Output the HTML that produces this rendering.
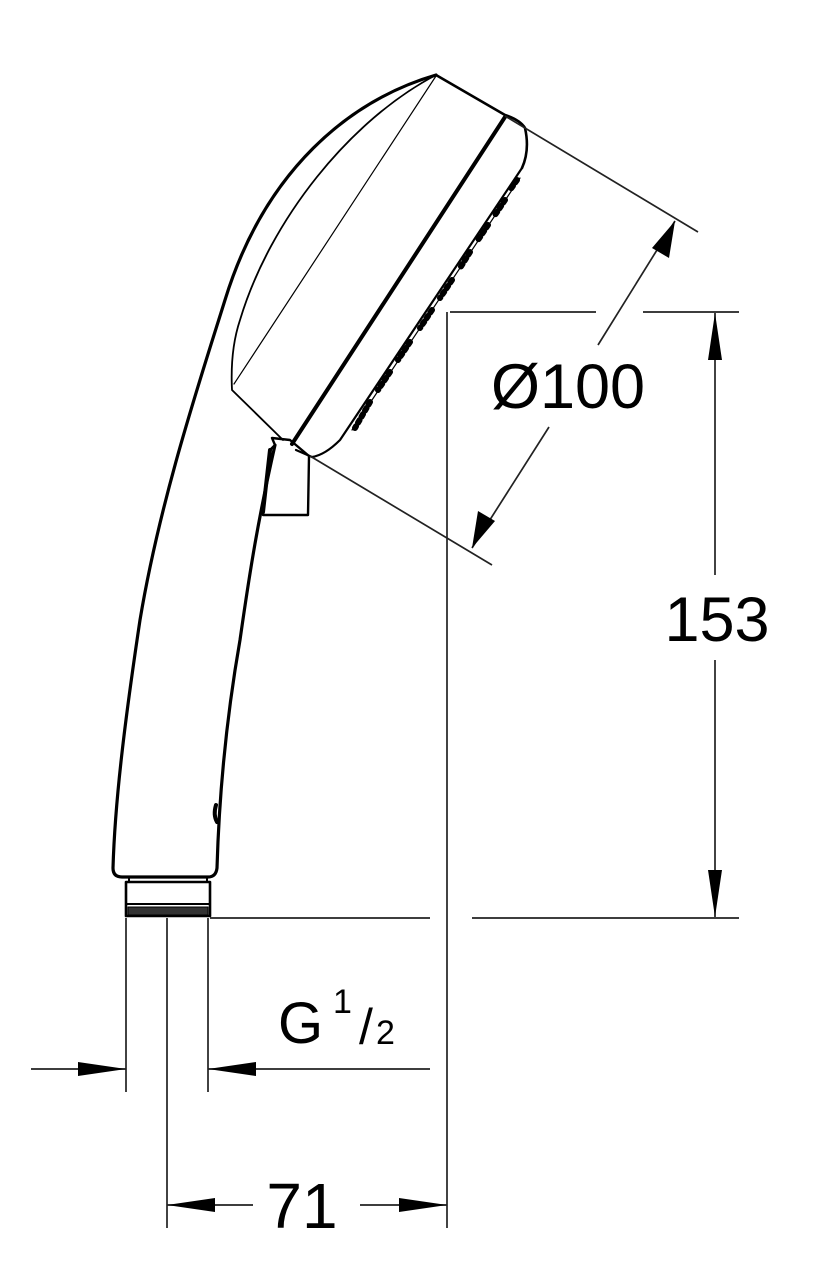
<!DOCTYPE html>
<html><head><style>html,body{margin:0;padding:0;background:#fff;}svg{display:block}</style></head>
<body>
<svg width="826" height="1278" viewBox="0 0 826 1278" xmlns="http://www.w3.org/2000/svg" font-family="Liberation Sans, sans-serif">
<g fill="none" stroke="#000" stroke-linecap="round" stroke-linejoin="round">
<path d="M436,75 C350,100 265,170 225,300 C200,380 160,500 140,620 C125,720 115,800 113,868 Q113,877 122,877 L208,877 Q216,877 217,868 C219,800 226,720 240,640 C250,570 258,520 275,445" stroke-width="3.2"/>
<path d="M436,75 L505,115 Q520,120 525,128 Q530,150 522,168" stroke-width="2.6"/>
<path d="M505,117 L292,444" stroke-width="4"/>
<path d="M436,75 C350,120 270,220 240,320 Q230,350 232,390 L283,440" stroke-width="1.8"/>
<path d="M436,76 L234,384" stroke-width="1.2"/>
<path d="M522,168 L340,440 Q325,455 312,457 L296,450" stroke-width="2.2"/>
<path d="M520,178 L352,430" stroke-width="1.2"/>
<path d="M517,180 L510,190 M505,200 L495,215 M488,225 L478,240 M470,252 L460,268 M452,280 L440,298 M432,310 L420,328 M410,342 L398,360 M390,372 L378,390 M370,402 L355,428" stroke-width="6" stroke-dasharray="3 4"/>
<path d="M275,445 L272,438 L290,440 L309,456 L308,515 L263,515 L270,450 Z" stroke-width="2.4"/>
<path d="M270,450 L263,512" stroke-width="4"/>
<rect x="126" y="882" width="84" height="34" stroke-width="2.6"/>
<path d="M129,877 L129,882 M207,877 L207,882" stroke-width="2"/>
<path d="M127,904 L209,904" stroke-width="2"/>
<rect x="128" y="907" width="80" height="8" fill="#333" stroke-width="1"/>
<path d="M216,805 Q213,815 217,822" stroke-width="4"/>
</g>
<g stroke="#222" stroke-width="1.7" fill="none">
<path d="M505,116 L698,232 M310,456 L492,565"/>
<path d="M675,221 L598,345 M549,427 L472,548"/>
<path d="M450,312 L596,312 M643,312 L739,312"/>
<path d="M210,918 L430,918 M472,918 L739,918"/>
<path d="M447,312 L447,1228"/>
<path d="M715,313 L715,575 M715,660 L715,917"/>
<path d="M126,918 L126,1092 M208,918 L208,1092 M167,918 L167,1228"/>
<path d="M31,1069 L126,1069 M208,1069 L430,1069"/>
<path d="M167,1205 L253,1205 M360,1205 L447,1205"/>
</g>
<g fill="#000">
<polygon points="675,221 669,258 652,248"/>
<polygon points="472,548 478,511 495,521"/>
<polygon points="715,313 708,360 722,360"/>
<polygon points="715,917 708,870 722,870"/>
<polygon points="126,1069 78,1062 78,1076"/>
<polygon points="208,1069 256,1062 256,1076"/>
<polygon points="167,1205 215,1198 215,1212"/>
<polygon points="447,1205 399,1198 399,1212"/>
</g>
<g fill="#000">
<text x="568" y="408" font-size="63" text-anchor="middle">Ø100</text>
<text x="717" y="641" font-size="63" text-anchor="middle">153</text>
<text x="302" y="1228" font-size="64" text-anchor="middle">71</text>
<text x="278" y="1043" font-size="58">G</text>
<text x="333" y="1013" font-size="34">1</text>
<text x="359" y="1044" font-size="50">/</text>
<text x="376" y="1044" font-size="34">2</text>
</g>
</svg>
</body></html>
